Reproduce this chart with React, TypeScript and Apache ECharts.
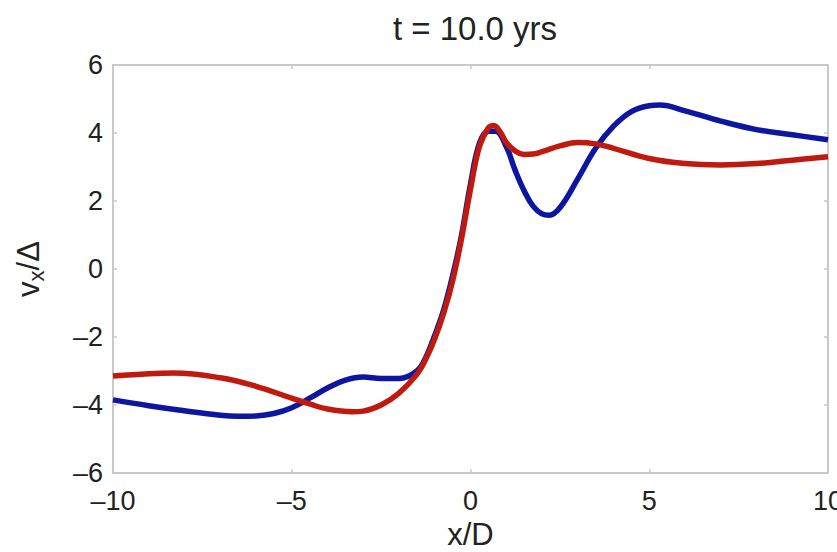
import React, { useEffect, useRef } from "react";
import * as echarts from "echarts";

const xBlue = [-10, -9, -8, -7, -6.5, -6, -5.5, -5, -4.5, -4, -3.5, -3, -2.5, -2, -1.5, -1.25, -1, -0.75, -0.5, -0.25, 0, 0.25, 0.5, 0.7, 1.0, 1.25, 1.5, 1.75, 2.0, 2.2, 2.5, 3.0, 3.5, 4.0, 4.5, 5.0, 5.3, 6, 7, 8, 9, 10];
const yBlue = [-3.85, -4.02, -4.17, -4.3, -4.33, -4.32, -4.25, -4.08, -3.8, -3.5, -3.27, -3.18, -3.22, -3.22, -3.0, -2.6, -1.95, -1.2, -0.2, 1.0, 2.5, 3.7, 4.05, 4.05, 3.6, 2.9, 2.3, 1.85, 1.62, 1.58, 1.8, 2.65, 3.55, 4.2, 4.63, 4.8, 4.82, 4.65, 4.35, 4.1, 3.95, 3.8];

const xRed = [-10, -9, -8.3, -7, -6, -5, -4.5, -4, -3.3, -3, -2.5, -2, -1.5, -1.25, -1, -0.75, -0.5, -0.25, 0, 0.25, 0.5, 0.65, 0.85, 1.0, 1.25, 1.5, 1.75, 2.0, 2.5, 3.0, 3.5, 4, 5, 6, 7, 8, 9, 10];
const yRed = [-3.15, -3.08, -3.06, -3.2, -3.45, -3.8, -3.97, -4.12, -4.2, -4.18, -4.0, -3.65, -3.1, -2.65, -2.05, -1.3, -0.35, 0.9, 2.35, 3.6, 4.15, 4.22, 4.0, 3.72, 3.47, 3.37, 3.38, 3.45, 3.62, 3.72, 3.68, 3.55, 3.25, 3.1, 3.06, 3.1, 3.2, 3.3];

const xTicks = [-10, -5, 0, 5, 10];
const yTicks = [-6, -4, -2, 0, 2, 4, 6];

const FONT = "Liberation Sans, Arial, Helvetica, sans-serif";
const AXIS_COLOR = "#c9c9c9";
const LABEL_COLOR = "#222";

function dash(v: number) {
  return String(v).replace("-", "\u2013");
}

export default function App() {
  const ref = useRef<HTMLDivElement>(null);
  useEffect(() => {
    if (!ref.current) return;
    const chart = echarts.init(ref.current, null, { renderer: "svg" });
    const axisCommon = {
      axisLine: { show: true, onZero: false, lineStyle: { color: AXIS_COLOR, width: 2 } },
      axisTick: { show: true, inside: true, length: 4, lineStyle: { color: AXIS_COLOR, width: 1.5 } },
      splitLine: { show: false },
    };
    chart.setOption({
      animation: false,
      backgroundColor: "#fff",
      title: {
        text: "t = 10.0 yrs",
        left: 470,
        top: 7,
        textAlign: "center",
        textStyle: { fontFamily: FONT, fontSize: 33, fontWeight: "normal", color: LABEL_COLOR },
      },
      grid: { left: 113, right: 9, top: 65, bottom: 79, containLabel: false, outerBoundsMode: "none" },
      xAxis: [
        {
          type: "value",
          position: "bottom",
          min: -10,
          max: 10,
          interval: 5,
          ...axisCommon,
          axisLabel: {
            show: true,
            margin: 14,
            fontFamily: FONT,
            fontSize: 27,
            color: LABEL_COLOR,
            formatter: (v: number) => (xTicks.includes(v) ? dash(v) : ""),
          },
          name: "x/D",
          nameLocation: "middle",
          nameGap: 43,
          nameTextStyle: { fontFamily: FONT, fontSize: 31, color: LABEL_COLOR },
        },
        {
          type: "value",
          position: "top",
          min: -10,
          max: 10,
          interval: 5,
          ...axisCommon,
          axisLabel: { show: false },
        },
      ],
      yAxis: [
        {
          type: "value",
          position: "left",
          min: -6,
          max: 6,
          interval: 2,
          ...axisCommon,
          axisLabel: {
            show: true,
            margin: 10,
            fontFamily: FONT,
            fontSize: 27,
            color: LABEL_COLOR,
            formatter: (v: number) => (yTicks.includes(v) ? dash(v) : ""),
          },
          name: "{a|v}{b|x}{a|/\u0394}",
          nameLocation: "middle",
          nameGap: 66,
          nameRotate: 90,
          nameTextStyle: {
            fontFamily: FONT,
            color: LABEL_COLOR,
            rich: {
              a: { fontFamily: FONT, fontSize: 31, color: LABEL_COLOR },
              b: { fontFamily: FONT, fontSize: 22, color: LABEL_COLOR, padding: [16, 0, 0, 0] },
            },
          },
        },
        {
          type: "value",
          position: "right",
          min: -6,
          max: 6,
          interval: 2,
          ...axisCommon,
          axisLabel: { show: false },
        },
      ],
      series: [
        {
          type: "line",
          name: "blue",
          data: xBlue.map((x, i) => [x, yBlue[i]]),
          smooth: 0.4,
          showSymbol: false,
          lineStyle: { color: "#0c16a0", width: 5.5 },
          z: 2,
        },
        {
          type: "line",
          name: "red",
          data: xRed.map((x, i) => [x, yRed[i]]),
          smooth: 0.4,
          showSymbol: false,
          lineStyle: { color: "#c0190d", width: 5.5 },
          z: 3,
        },
      ],
    });
    return () => chart.dispose();
  }, []);
  return <div ref={ref} style={{ width: 837, height: 552, position: "absolute", left: 0, top: 0 }} />;
}
